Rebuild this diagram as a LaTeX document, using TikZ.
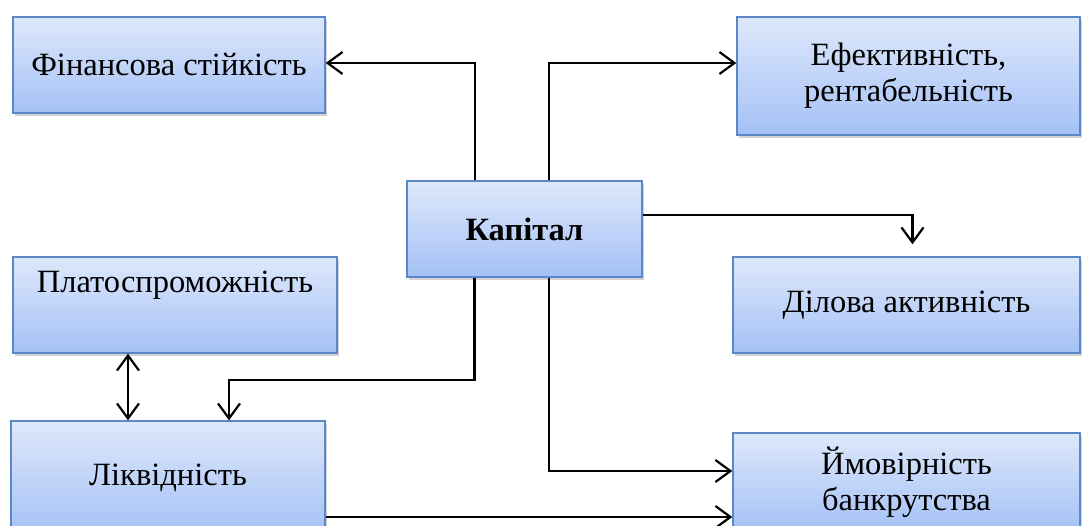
\documentclass[tikz,border=0pt]{standalone}
\usepackage{fontspec}
\setmainfont{Liberation Serif}
\usetikzlibrary{arrows.meta,shadows}
\definecolor{boxtop}{HTML}{DEE8FB}
\definecolor{boxbot}{HTML}{A4C1F6}
\definecolor{boxline}{HTML}{5A88C6}
\begin{document}
\begin{tikzpicture}[x=1pt,y=-1pt,
  blok/.style={draw=boxline, line width=1.4pt, top color=boxtop, bottom color=boxbot,
    drop shadow={shadow xshift=2pt, shadow yshift=-3pt, opacity=0.35},
    align=center, inner sep=0pt, font=\fontsize{32.5}{36}\selectfont},
  lin/.style={line width=2.2pt, -{Straight Barb[length=15pt,width=22pt,line width=2.2pt]}}]
  \useasboundingbox (0,0) rectangle (1082,526);
  \node[blok, minimum width=312pt, minimum height=96pt] (fin) at (169,65) {Фінансова стійкість};
  \node[blok, minimum width=343pt, minimum height=118pt] (ef) at (908.5,76) {Ефективність,\\рентабельність};
  \node[blok, minimum width=235pt, minimum height=96pt, font=\fontsize{32.5}{36}\selectfont\bfseries] (cap) at (524.5,229) {Капітал};
  \node[blok, minimum width=347pt, minimum height=96pt] (dil) at (906.5,305) {Ділова активність};
  \node[blok, minimum width=324pt, minimum height=96pt] (plat) at (175,305) {Платоспроможність\\\strut};
  \node[blok, minimum width=314pt, minimum height=114pt] (liq) at (168,478) {Ліквідність};
  \node[blok, minimum width=347pt, minimum height=98pt] (ymov) at (906.5,482) {Ймовірність\\банкрутства};
  \draw[lin] ([xshift=-49.5pt]cap.north) |- ([yshift=2pt]fin.east);
  \draw[lin] ([xshift=24.5pt]cap.north) |- ([yshift=13pt]ef.west);
  \draw[lin] ([yshift=14pt]cap.east) -| ([xshift=6pt,yshift=12pt]dil.north);
  \draw[lin] ([xshift=-50pt]cap.south) -- ++(0,102) -| ([xshift=61pt]liq.north);
  \draw[lin] ([xshift=24.5pt]cap.south) |- ([yshift=11pt]ymov.west);
  \draw[lin, {Straight Barb[length=15pt,width=22pt,line width=2.2pt]}-{Straight Barb[length=15pt,width=22pt,line width=2.2pt]}] ([xshift=-47pt]plat.south) -- ([xshift=-40pt]liq.north);
  \draw[lin] ([yshift=-39pt]liq.east) -- ([yshift=-35pt]ymov.west);
\end{tikzpicture}
\end{document}
